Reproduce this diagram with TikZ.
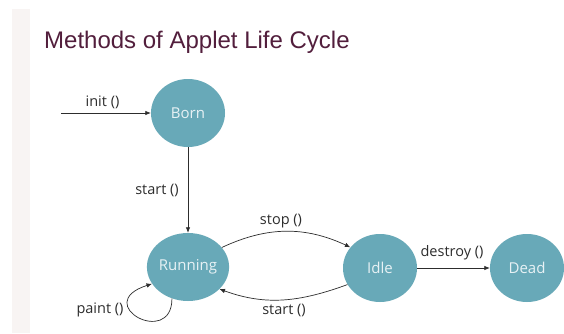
\documentclass[tikz,border=0pt]{standalone}
\usepackage{fontspec}
\setmainfont{Open Sans}
\newfontfamily\titlefont{Liberation Sans}
\usetikzlibrary{arrows.meta,shapes.geometric}
\definecolor{nodefill}{RGB}{104,169,184}
\definecolor{titlecol}{RGB}{82,30,60}
\definecolor{stripcol}{RGB}{248,244,243}
\definecolor{linecol}{RGB}{45,45,45}
\definecolor{nodetext}{RGB}{232,242,245}
\tikzset{
  state/.style={ellipse, fill=nodefill, draw=none, minimum width=74pt, minimum height=68pt, inner sep=0pt,
    text=nodetext, font=\fontsize{15}{18}\selectfont},
  lbl/.style={text=linecol, font=\fontsize{14.5}{17}\selectfont, inner sep=0pt},
  arr/.style={draw=linecol, line width=0.7pt, -{Latex[length=5.5pt,width=4.5pt]}}
}
\begin{document}
\begin{tikzpicture}[x=1pt,y=1pt]
\useasboundingbox (0,0) rectangle (564,333);
\fill[white] (0,0) rectangle (564,333);
\fill[stripcol] (12,0) rectangle (30,324);
\node[anchor=base west, inner sep=0pt, text=titlecol, font=\titlefont\fontsize{24}{28}\selectfont] (title) at (44,285) {Methods of Applet Life Cycle};
\node[state] (born) at (188,220) {Born};
\node[state] (run) at (188,66) {Running};
\node[state] (idle) at (380,65) {Idle};
\node[state] (dead) at (527,65) {Dead};
\coordinate (src) at (61,220);
\draw[arr] (src) -- (born);
\node[lbl] (linit) at (102.5,231) {init ()};
\draw[arr] (born) -- (run);
\node[lbl] (lstart1) at (157,143) {start ()};
\draw[arr] (run.30) to[out=25,in=155] (idle.145);
\node[lbl] (lstop) at (281,111.5) {stop ()};
\draw[arr] (idle.207) to[out=200,in=-20] (run.-35);
\node[lbl] (lstart2) at (284,23) {start ()};
\draw[arr] (idle) -- (dead);
\node[lbl] (ldestroy) at (452,80.5) {destroy ()};
\draw[arr] (run.243) .. controls +(0,-50) and +(-62,-20) .. (run.205);
\node[lbl] (lpaint) at (100,23) {paint ()};
\end{tikzpicture}
\end{document}
